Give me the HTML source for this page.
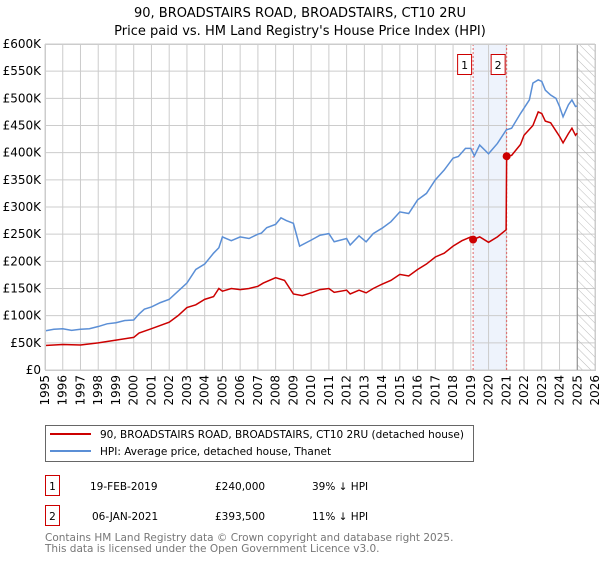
<!DOCTYPE html>
<html><head><meta charset="utf-8"><style>
body{margin:0;background:#fff;font-family:"DejaVu Sans","Liberation Sans",sans-serif}
svg text{font-family:"DejaVu Sans","Liberation Sans",sans-serif}
</style></head><body>
<svg id="c" width="600" height="560" xmlns="http://www.w3.org/2000/svg">
<text x="300" y="17" text-anchor="middle" font-size="13">90, BROADSTAIRS ROAD, BROADSTAIRS, CT10 2RU</text>
<text x="300" y="35" text-anchor="middle" font-size="13">Price paid vs. HM Land Registry's House Price Index (HPI)</text>
<defs><pattern id="hatch" width="6" height="6" patternUnits="userSpaceOnUse" patternTransform="rotate(-45)"><line x1="0" y1="0" x2="0" y2="6" stroke="#bbb" stroke-width="1"/></pattern></defs>
<g id="grid"></g><g id="marks"></g><g id="axes"></g>
<g>
<rect x="45.5" y="425.5" width="428" height="36" fill="#fff" stroke="#666"/>
<line x1="50" y1="434" x2="91" y2="434" stroke="#cc0000" stroke-width="2"/>
<text x="100" y="438" font-size="10.5">90, BROADSTAIRS ROAD, BROADSTAIRS, CT10 2RU (detached house)</text>
<line x1="50" y1="451" x2="91" y2="451" stroke="#5b8fd6" stroke-width="2"/>
<text x="100" y="455" font-size="10.5">HPI: Average price, detached house, Thanet</text>
</g>
<g font-size="10.5">
<rect x="45.5" y="475.5" width="14" height="20" fill="#fff" stroke="#cc0000"/><text x="52.5" y="490" text-anchor="middle">1</text>
<text x="90" y="490">19-FEB-2019</text><text x="215" y="490">£240,000</text><text x="312" y="490">39% ↓ HPI</text>
<rect x="45.5" y="505.5" width="14" height="20" fill="#fff" stroke="#cc0000"/><text x="52.5" y="520" text-anchor="middle">2</text>
<text x="92" y="520">06-JAN-2021</text><text x="215" y="520">£393,500</text><text x="312" y="520">11% ↓ HPI</text>
</g>
<text x="45" y="541" font-size="10.5" fill="#777">Contains HM Land Registry data © Crown copyright and database right 2025.</text>
<text x="45" y="552" font-size="10.5" fill="#777">This data is licensed under the Open Government Licence v3.0.</text>
</svg>
<script>
const hpiYears=[1995,1995.5,1996,1996.5,1997,1997.5,1998,1998.5,1999,1999.5,2000,2000.3,2000.6,2001,2001.5,2002,2002.5,2003,2003.5,2004,2004.5,2004.8,2005,2005.5,2006,2006.5,2007,2007.2,2007.5,2008,2008.3,2008.6,2009,2009.35,2010,2010.5,2011,2011.3,2012,2012.2,2012.7,2013.1,2013.5,2014,2014.5,2015,2015.5,2016,2016.5,2017,2017.5,2018,2018.3,2018.7,2019,2019.2,2019.5,2020,2020.5,2021,2021.3,2021.8,2022.3,2022.5,2022.8,2023,2023.2,2023.5,2023.8,2024,2024.2,2024.5,2024.7,2024.9,2025];
const hpiValues=[72,75,76,73,75,76,80,85,87,91,92,103,112,116,124,130,145,160,185,195,215,225,245,238,245,242,250,252,262,268,280,275,270,228,239,248,251,236,242,230,247,236,251,261,273,291,288,313,325,350,368,390,393,408,408,394,414,398,417,442,445,472,497,528,534,531,515,506,500,485,466,488,497,485,486];
const ppYears=[1995,1996,1997,1998,1999,2000,2000.3,2001,2002,2002.5,2003,2003.5,2004,2004.5,2004.8,2005,2005.5,2006,2006.5,2007,2007.3,2008,2008.5,2009,2009.5,2010,2010.5,2011,2011.3,2012,2012.2,2012.7,2013.1,2013.5,2014,2014.5,2015,2015.5,2016,2016.5,2017,2017.5,2018,2018.5,2019,2019.13,2019.5,2020,2020.5,2020.99,2021.02,2021.3,2021.8,2022,2022.5,2022.8,2023,2023.2,2023.5,2023.8,2024,2024.2,2024.5,2024.7,2024.9,2025];
const ppValues=[45,47,46,50,55,60,68,76,88,100,115,120,130,135,150,145,150,148,150,154,160,170,165,140,137,142,148,150,143,147,140,147,142,150,158,165,176,173,185,195,208,215,228,238,245,240,245,235,245,258,393.5,395,415,432,450,475,472,458,455,440,430,418,435,445,432,436];
const saleYears=[2019.13,2021.02];
const saleValues=[240,393.5];
const saleLabels=["1","2"];
const yTicks=[0,50,100,150,200,250,300,350,400,450,500,550,600];
const yTickLabels=["£0","£50K","£100K","£150K","£200K","£250K","£300K","£350K","£400K","£450K","£500K","£550K","£600K"];
const xTicks=[1995,1996,1997,1998,1999,2000,2001,2002,2003,2004,2005,2006,2007,2008,2009,2010,2011,2012,2013,2014,2015,2016,2017,2018,2019,2020,2021,2022,2023,2024,2025,2026];
const L=45,R=595,T=44,B=370;
const x=v=>L+(v-1995)/(2026-1995)*(R-L);
const y=v=>B-v/600*(B-T);
const NS="http://www.w3.org/2000/svg";
function mk(p,t,a){const e=document.createElementNS(NS,t);for(const k in a)e.setAttribute(k,a[k]);p.appendChild(e);return e;}
const g=document.getElementById('grid'),m=document.getElementById('marks'),ax=document.getElementById('axes');
const band=mk(g,'rect',{x:x(saleYears[0]),y:T,width:x(saleYears[1])-x(saleYears[0]),height:B-T,fill:'#eef3fc'});


yTicks.forEach((v,i)=>{
 const l=mk(g,'line',{x1:L,x2:R,y1:y(v),y2:y(v),stroke:'#ccc','stroke-width':1});
 
 
 const t=mk(ax,'text',{x:L-4,y:y(v)+4,'text-anchor':'end','font-size':12});
 
 
 t.textContent=yTickLabels[i];
});
xTicks.forEach(v=>{
 const l=mk(g,'line',{x1:x(v),x2:x(v),y1:T,y2:B,stroke:'#ccc','stroke-width':1});
 
 
 const t=mk(ax,'text',{x:0,y:0,'text-anchor':'end','font-size':12,transform:`translate(${x(v)+4},${B+5}) rotate(-90)`});
 
 
 t.textContent=v;
});
const h=mk(g,'rect',{x:x(2025),y:T,width:R-x(2025),height:B-T,fill:'url(#hatch)'});


const hl=mk(g,'line',{x1:x(2025),x2:x(2025),y1:T,y2:B,stroke:'#888','stroke-width':1});


const fr=mk(ax,'rect',{x:L+.5,y:T+.5,width:R-L,height:B-T,fill:'none',stroke:'#ccc'});


saleYears.forEach((v,i)=>{
 const l=mk(m,'line',{x1:x(v),x2:x(v),y1:T,y2:B,stroke:'#e06666','stroke-width':1,'stroke-dasharray':'2,2'});
 
 
});
const hp=mk(m,'polyline',{points:hpiYears.map((v,i)=>x(v)+','+y(hpiValues[i])).join(' '),fill:'none',stroke:'#5b8fd6','stroke-width':1.5});


const pp=mk(m,'polyline',{points:ppYears.map((v,i)=>x(v)+','+y(ppValues[i])).join(' '),fill:'none',stroke:'#cc0000','stroke-width':1.5});


saleYears.forEach((v,i)=>{
 const c=mk(m,'circle',{cx:x(v),cy:y(saleValues[i]),r:4,fill:'#cc0000'});
 
 
 const bx=mk(m,'rect',{x:x(v)-15.5,y:54.5,width:14,height:20,fill:'#fff',stroke:'#cc0000'});
 
 
 const t=mk(m,'text',{x:x(v)-8.5,y:69,'text-anchor':'middle','font-size':11});
 
 
 t.textContent=saleLabels[i];
});
</script>
</body></html>
